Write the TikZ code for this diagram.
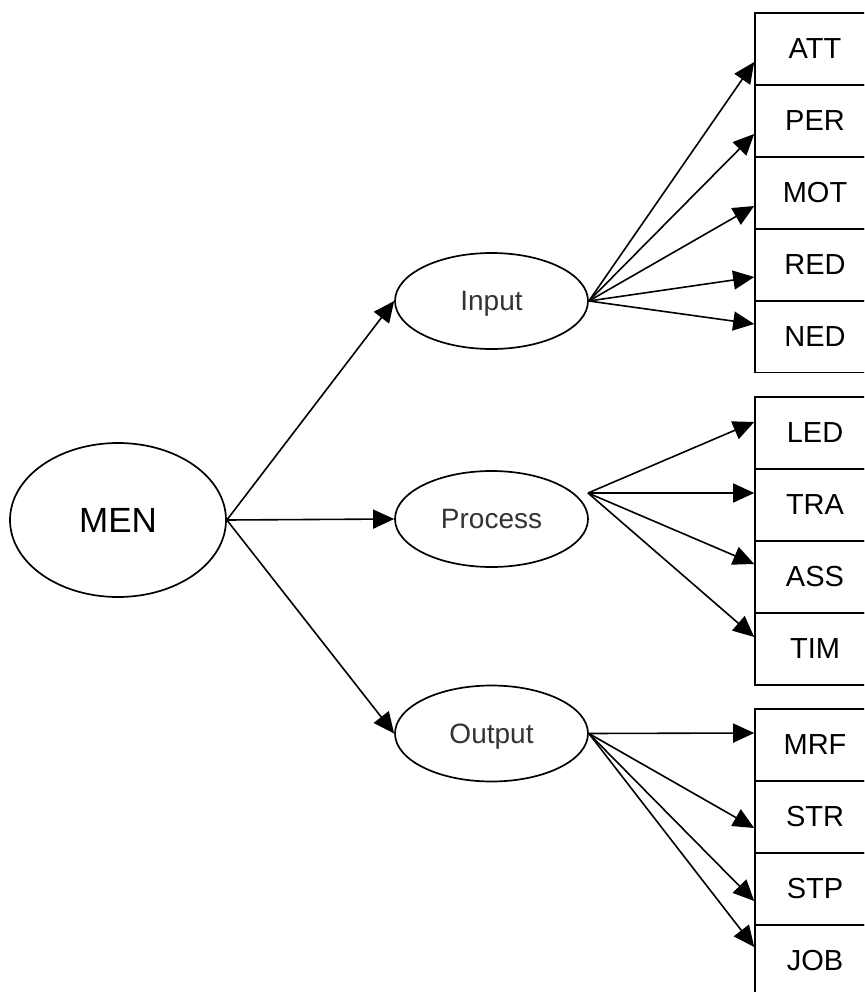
\documentclass[tikz,border=0pt]{standalone}
\usepackage{fontspec}
\setmainfont{Liberation Sans}
\usetikzlibrary{arrows.meta,shapes.geometric}

\tikzset{
  lbl/.style={font=\fontsize{29}{34}\selectfont},
  oval/.style={draw, ellipse, line width=1.7pt, inner sep=0pt},
  stage/.style={oval, minimum width=193pt, minimum height=96pt,
                font=\fontsize{28}{33}\selectfont, text=black!80,
                text depth=0pt},
  itembox/.style={draw, rectangle, line width=1.6pt, inner sep=0pt,
                  minimum width=120pt, minimum height=72pt, lbl},
  arr/.style={line width=1.6pt, -{Triangle[length=21pt,width=19pt]}},
}

\begin{document}
\begin{tikzpicture}[x=1pt, y=-1pt]
  \useasboundingbox (0,0) rectangle (864,992);
  \fill[white] (0,0) rectangle (864,992);
  \clip (0,0) rectangle (864,992);

  % root and the three stages
  \node[oval, minimum width=216pt, minimum height=154pt,
        font=\fontsize{35}{40}\selectfont] (men) at (118,520) {MEN};
  \node[stage] (input)   at (491.5,301)   {Input};
  \node[stage] (process) at (491.5,519)   {Process};
  \node[stage] (output)  at (491.5,733.5) {Output};
  \coordinate (pout) at (588,493);

  % input indicators
  \node[itembox] (att) at (815,49)    {ATT};
  \node[itembox] (per) at (815,121)   {PER};
  \node[itembox] (mot) at (815,193)   {MOT};
  \node[itembox] (red) at (815,265)   {RED};
  \node[itembox] (ned) at (815,336.5) {NED};

  % process indicators
  \node[itembox] (led) at (815,433) {LED};
  \node[itembox] (tra) at (815,505) {TRA};
  \node[itembox] (ass) at (815,577) {ASS};
  \node[itembox] (tim) at (815,649) {TIM};

  % output indicators
  \node[itembox] (mrf) at (815,745) {MRF};
  \node[itembox] (str) at (815,817) {STR};
  \node[itembox] (stp) at (815,889) {STP};
  \node[itembox] (job) at (815,961) {JOB};

  % root to stages
  \draw[arr] (men.east) -- (input.west);
  \draw[arr] (men.east) -- (process.west);
  \draw[arr] (men.east) -- (output.west);

  % input fan
  \draw[arr] (input.east) -- ([yshift=-13pt]att.west);
  \draw[arr] (input.east) -- ([yshift=-13pt]per.west);
  \draw[arr] (input.east) -- ([yshift=-13pt]mot.west);
  \draw[arr] (input.east) -- ([yshift=-12pt]red.west);
  \draw[arr] (input.east) -- ([yshift=12.5pt]ned.west);

  % process fan
  \draw[arr] (pout) -- ([yshift=11pt]led.west);
  \draw[arr] (pout) -- ([yshift=12pt]tra.west);
  \draw[arr] (pout) -- ([yshift=13pt]ass.west);
  \draw[arr] (pout) -- ([yshift=12pt]tim.west);

  % output fan
  \draw[arr] (output.east) -- ([yshift=12pt]mrf.west);
  \draw[arr] (output.east) -- ([yshift=-11pt]str.west);
  \draw[arr] (output.east) -- ([yshift=-12pt]stp.west);
  \draw[arr] (output.east) -- ([yshift=14pt]job.west);
\end{tikzpicture}
\end{document}
